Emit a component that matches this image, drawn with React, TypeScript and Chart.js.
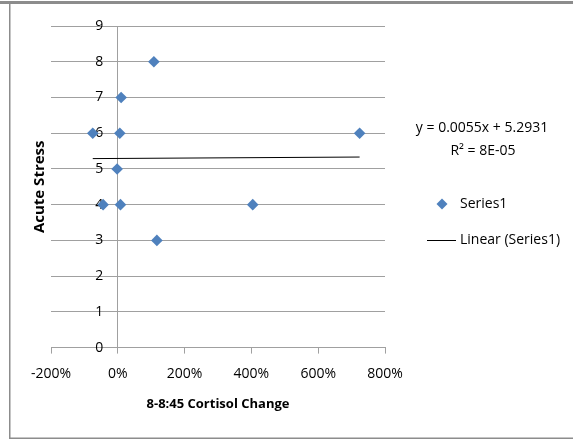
import React, { useEffect, useRef } from "react";
import { Chart, registerables } from "chart.js";

Chart.register(...registerables);

const FONT = "'Open Sans', sans-serif";

// Cortisol change (fraction, 1 = 100%) and acute stress score
const cortisolChange = [-0.75, 0.10, 0.06, -0.02, 1.08, -0.44, 0.08, 4.04, 1.17, 7.24];
const acuteStress = [6, 7, 6, 5, 8, 4, 4, 4, 3, 6];

// Linear trendline endpoints (y = 0.0055x + 5.2931)
const trendX = [-0.75, 7.24];
const trendY = [5.289, 5.3329];

const equationText = "y = 0.0055x + 5.2931";
const r2Text = "R\u00B2 = 8E-05";
const seriesName = "Series1";
const trendName = "Linear (Series1)";
const xTitle = "8-8:45 Cortisol Change";
const yTitle = "Acute Stress";

const MARKER = "#4F81BD";
const GRID = "#a0a0a0";

const decorPlugin = {
  id: "decor",
  beforeDraw(chart: any) {
    const ctx = chart.ctx;
    ctx.save();
    ctx.fillStyle = "#ffffff";
    ctx.fillRect(0, 0, chart.width, chart.height);
    ctx.restore();
  },
  afterDraw(chart: any) {
    const ctx = chart.ctx;
    ctx.save();
    // frame
    ctx.fillStyle = "#8c8c8c";
    ctx.fillRect(0, 1, chart.width, 3);
    ctx.fillRect(9, 1, 1.5, chart.height);
    ctx.fillRect(9, 437.5, chart.width, 1.5);

    // equation
    ctx.fillStyle = "#000";
    ctx.font = `14px ${FONT}`;
    ctx.textAlign = "center";
    ctx.textBaseline = "middle";
    ctx.fillText(equationText, 482, 128);
    ctx.fillText(r2Text, 483, 151);

    // legend
    ctx.textAlign = "left";
    ctx.fillText(seriesName, 460, 204);
    ctx.fillText(trendName, 460, 240);
    ctx.fillStyle = MARKER;
    ctx.beginPath();
    ctx.moveTo(442, 204 - 5.5);
    ctx.lineTo(442 + 5.5, 204);
    ctx.lineTo(442, 204 + 5.5);
    ctx.lineTo(442 - 5.5, 204);
    ctx.closePath();
    ctx.fill();
    ctx.strokeStyle = "#000";
    ctx.lineWidth = 1;
    ctx.beginPath();
    ctx.moveTo(427, 240.5);
    ctx.lineTo(456, 240.5);
    ctx.stroke();
    ctx.restore();
  },
};

export default function App() {
  const ref = useRef<HTMLCanvasElement | null>(null);
  useEffect(() => {
    document.body.style.margin = "0";
    if (!ref.current) return;
    const chart = new Chart(ref.current, {
      type: "scatter",
      data: {
        datasets: [
          {
            label: seriesName,
            data: cortisolChange.map((x, i) => ({ x, y: acuteStress[i] })),
            pointStyle: "rectRot",
            pointRadius: 5.8,
            backgroundColor: MARKER,
            borderColor: MARKER,
            borderWidth: 0,
          },
          {
            label: trendName,
            data: trendX.map((x, i) => ({ x, y: trendY[i] })),
            showLine: true,
            pointRadius: 0,
            borderColor: "#000",
            borderWidth: 1,
            backgroundColor: "#000",
          },
        ],
      },
      options: {
        animation: false,
        responsive: false,
        layout: { padding: { top: 26, left: 31, right: 188, bottom: 27.6 } },
        plugins: { legend: { display: false }, tooltip: { enabled: false } },
        scales: {
          x: {
            type: "linear",
            position: "bottom",
            min: -2,
            max: 8,
            ticks: {
              stepSize: 2,
              padding: 12,
              color: "#000",
              font: { family: FONT, size: 14 },
              callback: (v: any) => Math.round(Number(v) * 100) + "%",
            },
            grid: { drawOnChartArea: false, drawTicks: true, tickLength: 6, color: GRID },
            border: { display: true, color: GRID },
            title: {
              display: true,
              text: xTitle,
              color: "#000",
              font: { family: FONT, size: 13, weight: "bold", lineHeight: 1 },
              padding: { top: 3, bottom: 1 },
            },
          },
          y: {
            type: "linear",
            position: { x: 0 } as any,
            min: 0,
            max: 9,
            ticks: {
              stepSize: 1,
              padding: 0,
              color: "#000",
              font: { family: FONT, size: 14 },
              // right-aligned at the axis line; trailing spaces keep a gap
              callback: (v: any) => String(v) + "    ",
            },
            grid: {
              drawOnChartArea: true,
              drawTicks: false,
              color: GRID,
            },
            border: { display: true, color: GRID },
          },
          y2: {
            type: "linear",
            position: "left",
            min: 0,
            max: 9,
            ticks: { display: false },
            grid: { display: false, drawTicks: false },
            border: { display: false },
            title: {
              display: true,
              text: yTitle,
              color: "#000",
              font: { family: FONT, size: 15, weight: "bold" },
              padding: { top: 0, bottom: 2 },
            },
          },
        },
      },
      plugins: [decorPlugin],
    });
    return () => chart.destroy();
  }, []);
  return (
    <div style={{ width: 573, height: 439 }}>
      <canvas ref={ref} width={573} height={439} />
    </div>
  );
}
